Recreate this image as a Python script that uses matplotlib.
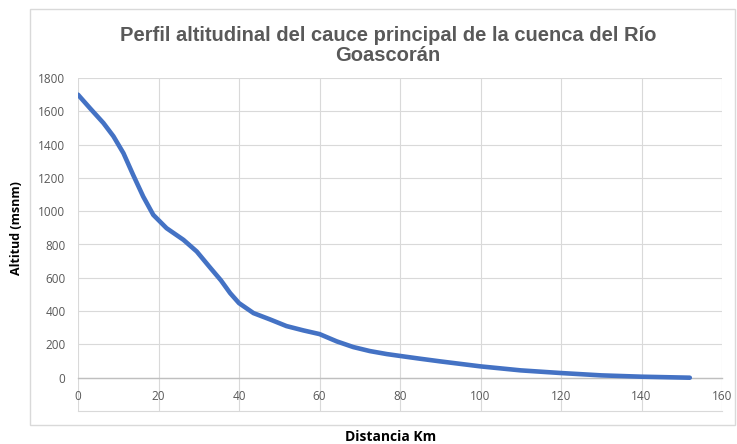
import matplotlib
matplotlib.use("Agg")
import matplotlib.pyplot as plt
from matplotlib.patches import Rectangle

# Data
distancia_km = [0, 3, 6.3, 8.8, 11.3, 13.7, 16.2, 18.7, 22, 26.2, 29.5, 32.8, 35.5, 37.8, 40,
                43.6, 47.7, 51.8, 56, 60, 64.3, 68.4, 72.5, 76.7, 80.8, 85, 90, 100, 110,
                120, 130, 140, 152]
altitud_msnm = [1700, 1618, 1530, 1450, 1348, 1218, 1088, 978, 898, 828, 758, 662, 585, 508, 448,
                388, 350, 310, 284, 262, 218, 184, 160, 142, 128, 114, 98, 68, 44,
                28, 14, 6, 0]
x_ticks = [0, 20, 40, 60, 80, 100, 120, 140, 160]
y_ticks = [0, 200, 400, 600, 800, 1000, 1200, 1400, 1600, 1800]

title = "Perfil altitudinal del cauce principal de la cuenca del Río\nGoascorán"
xlabel = "Distancia Km"
ylabel = "Altitud (msnm)"

W, H = 737, 444
fig = plt.figure(figsize=(W / 100, H / 100), dpi=100)
fig.patch.set_facecolor("white")

# chart border
fig.patches.append(Rectangle((30 / W, 1 - 425 / H), (735 - 30) / W, (425 - 9) / H,
                             transform=fig.transFigure, fill=False,
                             edgecolor="#D9D9D9", linewidth=1.0))

left, right, top, bottom = 78, 722, 78, 411
ax = fig.add_axes([left / W, 1 - bottom / H, (right - left) / W, (bottom - top) / H])

grid_c = "#D9D9D9"
txt_c = "#595959"

ax.plot(distancia_km, altitud_msnm, color="#4472C4", linewidth=3.3,
        solid_capstyle="round", solid_joinstyle="round", zorder=3)

ax.set_xlim(0, 160)
ax.set_ylim(-200, 1800)
ax.set_xticks(x_ticks)
ax.set_yticks(y_ticks)
ax.set_xticklabels([str(v) for v in x_ticks])
ax.set_yticklabels([str(v) for v in y_ticks])
ax.grid(True, color=grid_c, linewidth=0.8)
ax.set_axisbelow(True)

for s in ["left", "right", "top"]:
    ax.spines[s].set_visible(False)
ax.spines["bottom"].set_position(("data", 0))
ax.spines["bottom"].set_color("#BFBFBF")
ax.spines["bottom"].set_linewidth(1.0)
ax.axhline(-200, color=grid_c, linewidth=0.8, clip_on=False, zorder=0)

ax.tick_params(axis="both", length=0, labelcolor=txt_c, labelsize=8.5)
ax.tick_params(axis="x", pad=9)
ax.tick_params(axis="y", pad=9)
for lab in ax.get_xticklabels() + ax.get_yticklabels():
    lab.set_fontfamily(["Open Sans", "DejaVu Sans"])

fig.text(388 / W, 1 - 45.5 / H, title, ha="center", va="center", fontsize=14.5,
         fontweight="bold", color=txt_c, family=["Liberation Sans Narrow", "Liberation Sans", "DejaVu Sans"],
         linespacing=1.05)
fig.text(391 / W, 1 - 437 / H, xlabel, ha="center", va="center", fontsize=10,
         fontweight="bold", color="black", family=["Open Sans", "DejaVu Sans"])
fig.text(17 / W, 1 - 228 / H, ylabel, ha="center", va="center", fontsize=9,
         fontweight="bold", color="black", rotation=90, family=["Open Sans", "DejaVu Sans"])

fig.savefig("out.png", dpi=100)
